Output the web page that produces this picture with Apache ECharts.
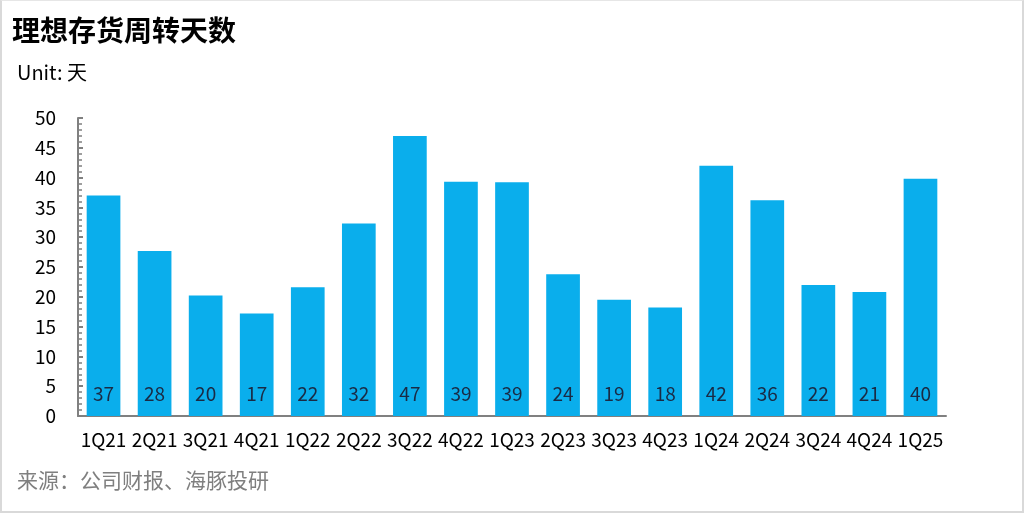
<!DOCTYPE html>
<html>
<head>
<meta charset="utf-8">
<script src="https://cdn.jsdelivr.net/npm/echarts@6/dist/echarts.min.js"></script>
<style>
  html, body { margin: 0; padding: 0; background: #fff; }
  #chart { width: 1024px; height: 513px; box-sizing: border-box; border: 2px solid #d9d9d9; border-top: 1px solid #e6e6e6; }
</style>
</head>
<body>
<div id="chart"></div>
<script>
// 季度
const quarters = ['1Q21', '2Q21', '3Q21', '4Q21', '1Q22', '2Q22', '3Q22', '4Q22', '1Q23',
  '2Q23', '3Q23', '4Q23', '1Q24', '2Q24', '3Q24', '4Q24', '1Q25']
// 存货周转天数（按柱高估读）
const turnoverDays = [37, 27.7, 20.2, 17.2, 21.6, 32.3, 47, 39.3, 39.2,
  23.8, 19.5, 18.2, 42, 36.2, 22, 20.8, 39.8]
// 柱上标签
const barLabels = ['37', '28', '20', '17', '22', '32', '47', '39', '39',
  '24', '19', '18', '42', '36', '22', '21', '40']

const font = '"Noto Sans CJK SC", "Microsoft YaHei", sans-serif'
const chart = echarts.init(document.getElementById('chart'))

chart.setOption({
  animation: false,
  textStyle: { fontFamily: font },
  title: [
    {
      text: '理想存货周转天数',
      left: 10, top: 15, padding: 0,
      textStyle: { fontSize: 28, fontWeight: 'bold', color: '#000', fontFamily: font }
    },
    {
      text: 'Unit: 天',
      left: 15, top: 61, padding: 0,
      textStyle: { fontSize: 20, fontWeight: 'normal', color: '#000', fontFamily: font }
    },
    {
      text: '来源：公司财报、海豚投研',
      left: 15, top: 469, padding: 0,
      textStyle: { fontSize: 21, fontWeight: 'normal', color: '#7f7f7f', fontFamily: font }
    }
  ],
  grid: { left: 76, right: 76, top: 117, bottom: 95 },
  xAxis: {
    type: 'category',
    data: quarters,
    axisLine: { lineStyle: { color: '#808080', width: 2 } },
    axisTick: { show: false },
    axisLabel: { color: '#000', fontSize: 19, margin: 14, fontFamily: font, interval: 0 }
  },
  yAxis: {
    type: 'value',
    min: 0, max: 50, interval: 5,
    axisLine: { show: true, lineStyle: { color: '#808080', width: 2 } },
    axisTick: { show: true, inside: true, length: 5, lineStyle: { color: '#808080', width: 2 } },
    minorTick: { show: true, splitNumber: 5, length: 4, lineStyle: { color: '#808080', width: 1.5 } },
    splitLine: { show: false },
    axisLabel: { color: '#000', fontSize: 19, margin: 22, fontFamily: font }
  },
  series: [{
    type: 'bar',
    data: turnoverDays,
    barWidth: '66%',
    itemStyle: { color: '#0AAEEC' },
    label: {
      show: true,
      position: 'insideBottom',
      distance: 13,
      color: '#1a2a44',
      fontSize: 19,
      fontFamily: font,
      formatter: p => barLabels[p.dataIndex]
    }
  }]
})
</script>
</body>
</html>
